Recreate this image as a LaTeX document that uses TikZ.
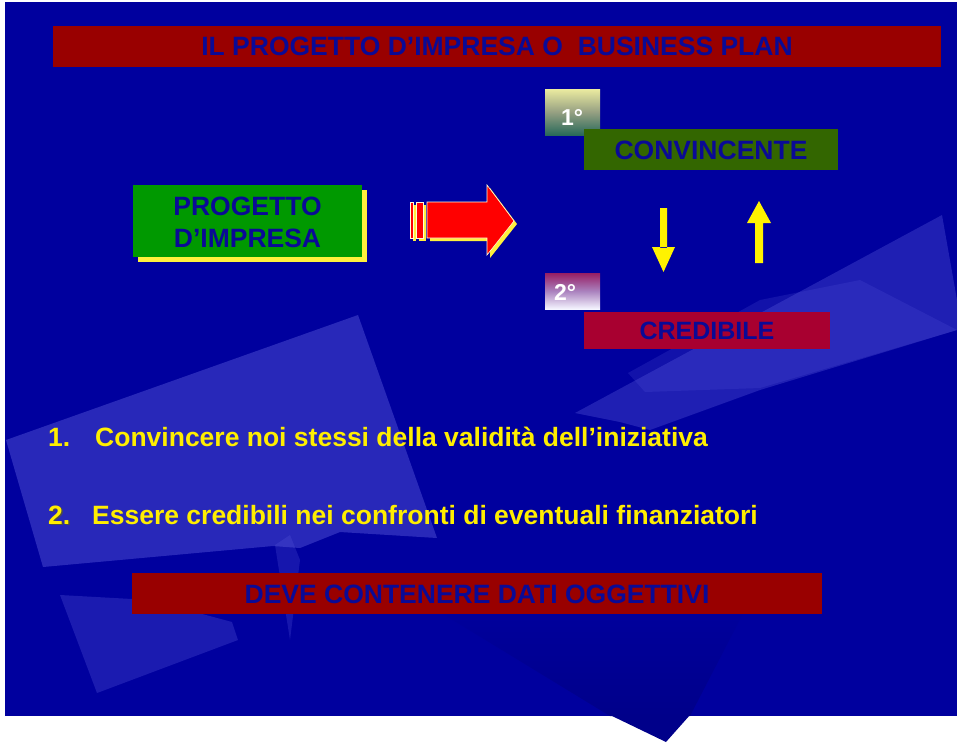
\documentclass[tikz,border=0pt]{standalone}
\usepackage{fontspec}
\setmainfont{Liberation Sans}
\definecolor{bgblue}{RGB}{0,0,158}
\definecolor{darkwedge}{RGB}{0,0,138}
\definecolor{lightshape}{RGB}{90,90,220}
\definecolor{txtblue}{RGB}{10,10,150}
\definecolor{barred}{RGB}{153,0,0}
\definecolor{credred}{RGB}{168,0,48}
\definecolor{boxgreen}{RGB}{0,153,0}
\definecolor{olivegreen}{RGB}{51,102,0}
\definecolor{txtyellow}{RGB}{255,238,0}
\definecolor{arrowred}{RGB}{255,0,0}
\definecolor{shadowyellow}{RGB}{255,240,60}
\tikzset{
  bigtxt/.style={font=\fontsize{26.5}{32}\selectfont\bfseries},
  bluetxt/.style={bigtxt, text=txtblue},
  itemtxt/.style={bigtxt, text=txtyellow, anchor=base west, inner sep=0pt},
  badge/.style={font=\fontsize{23}{26}\selectfont\bfseries, text=white, inner sep=0pt, anchor=base west},
}
\begin{document}
\begin{tikzpicture}[x=1pt,y=-1pt]
\useasboundingbox (0,0) rectangle (960,742);
\fill[white] (0,0) rectangle (960,742);
% slide background
\fill[bgblue] (5,2) rectangle (957,716);
% decorative background shapes
\fill[lightshape, opacity=0.45] (6,440) -- (358,315) -- (437,538) -- (340,532) -- (300,548) -- (273,546) -- (43,567) -- cycle;
\fill[lightshape, opacity=0.30] (60,595) -- (97,693) -- (238,640) -- (232,622) -- (150,600) -- cycle;
\fill[lightshape, opacity=0.25] (275,545) -- (290,535) -- (300,560) -- (290,640) -- cycle;
\fill[lightshape, opacity=0.35] (575,413) -- (942,215) -- (957,300) -- (957,330) -- (760,390) -- (650,430) -- (620,422) -- cycle;
\fill[lightshape, opacity=0.20] (628,373) -- (760,300) -- (860,280) -- (957,330) -- (760,388) -- (645,392) -- cycle;
\shade[top color=bgblue, bottom color=darkwedge] (420,600) -- (750,600) -- (690,716) -- (610,716) -- cycle;
\fill[darkwedge] (610,715) -- (690,715) -- (666,742) -- cycle;
% title bar
\fill[barred] (53,26) rectangle (941,67);
\node[bluetxt] (title) at (497,46.5) {IL PROGETTO D’IMPRESA O\ \ BUSINESS PLAN};
% progetto box with shadow
\fill[shadowyellow] (138,190) rectangle (367,262);
\fill[boxgreen] (133,185) rectangle (362,257);
\node[bluetxt, align=center] (prog) at (247.5,222) {PROGETTO\\D’IMPRESA};
% red arrow
\begin{scope}[shift={(3,3)}]
\fill[shadowyellow] (427,202) -- (487,202) -- (487,185) -- (514,221) -- (487,255) -- (487,238) -- (427,238) -- cycle;
\fill[shadowyellow] (410,202) rectangle (413,238);
\fill[shadowyellow] (416,202) rectangle (423,238);
\end{scope}
\fill[arrowred, draw=white!85!yellow, line width=0.6pt] (427,202) -- (487,202) -- (487,185) -- (514,221) -- (487,255) -- (487,238) -- (427,238) -- cycle;
\fill[arrowred, draw=white!85!yellow, line width=0.6pt] (410,202) rectangle (413,238);
\fill[arrowred, draw=white!85!yellow, line width=0.6pt] (416,202) rectangle (423,238);
% 1 badge
\shade[top color={rgb,255:red,235;green,235;blue,160}, bottom color={rgb,255:red,40;green,105;blue,90}, middle color={rgb,255:red,150;green,160;blue,130}] (545,89) rectangle (600,135);
\node[badge] (one) at (561,125) {1°};
% convincente
\fill[olivegreen] (584,129) rectangle (838,170);
\node[bluetxt] (conv) at (711,150) {CONVINCENTE};
% yellow arrows
\fill[yellow] (660,208) rectangle (667,248) (652,247) -- (675,247) -- (663.5,272) -- cycle;
\fill[yellow] (755,222) rectangle (763,263) (747,223) -- (771,223) -- (759,201) -- cycle;
% 2 badge
\shade[top color={rgb,255:red,150;green,30;blue,100}, bottom color={rgb,255:red,245;green,245;blue,255}, middle color={rgb,255:red,170;green,130;blue,190}] (545,273) rectangle (600,309);
\node[badge] (two) at (554,300) {2°};
% credibile
\fill[credred] (584,312) rectangle (830,349);
\node[bluetxt, font=\fontsize{25}{30}\selectfont\bfseries] (cred) at (707,331) {CREDIBILE};
% items
\node[itemtxt] (n1) at (48,446) {1.};
\node[itemtxt] (t1) at (95,446) {Convincere noi stessi della validità dell’iniziativa};
\node[itemtxt, text=black!70] at (49.5,525.5) {2.};
\node[itemtxt] (n2) at (48,524) {2.};
\node[itemtxt] (t2) at (92,524) {Essere credibili nei confronti di eventuali finanziatori};
% deve contenere
\fill[barred] (132,573) rectangle (822,614);
\node[bluetxt] (deve) at (477,594) {DEVE CONTENERE DATI OGGETTIVI};
\end{tikzpicture}
\end{document}
